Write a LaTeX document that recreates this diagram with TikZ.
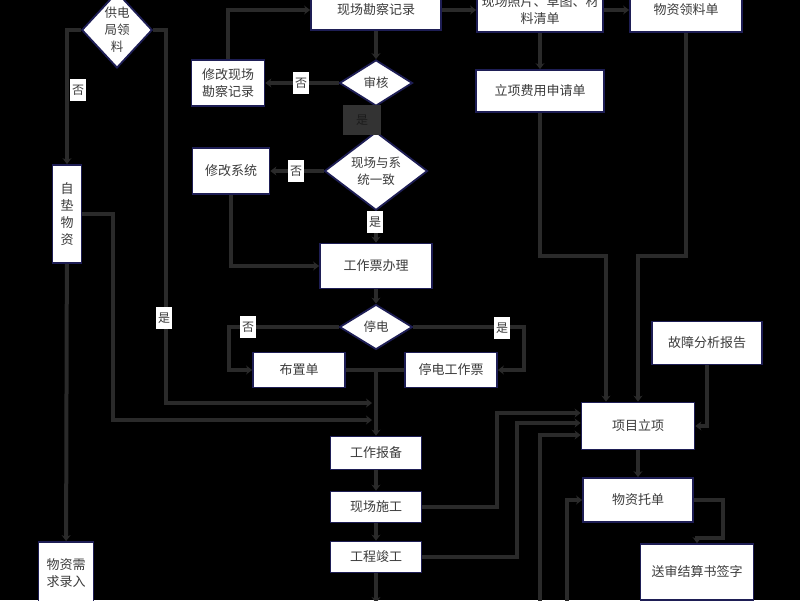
\documentclass[tikz,border=0pt]{standalone}
\usepackage{fontspec}
\newfontfamily\cjk{Noto Sans CJK SC}
\usetikzlibrary{shapes.geometric,arrows.meta}
\definecolor{bord}{HTML}{1E1E55}
\definecolor{conn}{HTML}{2A2A2A}
\definecolor{txt}{HTML}{3C3C3C}
\definecolor{dlab}{HTML}{333333}
\definecolor{dtxt}{HTML}{1C1C1C}
\tikzset{
  box/.style={draw=bord, fill=white, line width=1.8pt, text=txt,
    font=\cjk\fontsize{13}{17}\selectfont, inner sep=0pt, align=center},
  dia/.style={box, shape=diamond, font=\cjk\fontsize{12.5}{17}\selectfont},
  wire/.style={draw=conn, line width=4pt, -{Stealth[length=6pt,width=9pt]}},
  plainwire/.style={draw=conn, line width=4pt},
  lbl/.style={fill=white, text=txt, font=\cjk\fontsize{12}{14}\selectfont,
    inner sep=2pt, minimum height=22pt},
  dlbl/.style={lbl, fill=dlab, text=dtxt, minimum width=38pt, minimum height=30pt}
}
\begin{document}
\begin{tikzpicture}[x=1pt,y=-1pt]
\fill[black] (0,0) rectangle (800,600);
\useasboundingbox (0,0) rectangle (800,600);

% nodes
\node[dia, minimum width=70pt, minimum height=76pt] (gd) at (117,30) {供电\\局领\\料};
\node[box, minimum width=130pt, minimum height=40pt] (kc) at (376,10) {现场勘察记录};
\node[box, minimum width=126pt, minimum height=44pt] (zp) at (540,10) {现场照片、草图、材\\料清单};
\node[box, minimum width=112pt, minimum height=44pt] (wl) at (686,10) {物资领料单};
\node[box, minimum width=128pt, minimum height=42pt] (lx) at (540,91) {立项费用申请单};
\node[box, minimum width=73pt, minimum height=46pt] (xgk) at (228,83) {修改现场\\勘察记录};
\node[dia, minimum width=73pt, minimum height=46pt] (sh) at (376,83) {审核};
\node[dia, minimum width=103pt, minimum height=68pt] (yz) at (376,171) {现场与系\\统一致};
\node[box, minimum width=77pt, minimum height=46pt] (xgx) at (231,171) {修改系统};
\node[box, minimum width=112pt, minimum height=45pt] (gzp) at (376,266) {工作票办理};
\node[dia, minimum width=73pt, minimum height=45pt] (td) at (376,327) {停电};
\node[box, minimum width=92pt, minimum height=35pt] (bzd) at (299,370) {布置单};
\node[box, minimum width=92pt, minimum height=35pt] (tdp) at (451,370) {停电工作票};
\node[box, minimum width=29pt, minimum height=98pt] (zd) at (67,214) {自\\垫\\物\\资};
\node[box, minimum width=55pt, minimum height=62pt] (wx) at (66,573) {物资需\\求录入};
\node[box, minimum width=91pt, minimum height=33pt] (gb) at (376,453) {工作报备};
\node[box, minimum width=91pt, minimum height=31pt] (sg) at (376,507) {现场施工};
\node[box, minimum width=91pt, minimum height=31pt] (jg) at (376,557) {工程竣工};
\node[box, minimum width=110pt, minimum height=43pt] (gz) at (707,343) {故障分析报告};
\node[box, minimum width=113pt, minimum height=47pt] (xm) at (638,426) {项目立项};
\node[box, minimum width=110pt, minimum height=44pt] (wt) at (638,500) {物资托单};
\node[box, minimum width=113pt, minimum height=56pt] (ss) at (697,572) {送审结算书签字};

% free ends
\coordinate (m1) at (372,403);
\coordinate (m2) at (372,420);
\coordinate (b1) at (540,612);
\coordinate (b2) at (567,612);
\coordinate (e1) at (376,603);

% connectors
\draw[wire] (gd.west) -| (zd.north);
\draw[wire] (gd.east) -- ++(13,0) |- (m1);
\draw[wire] (zd.east) -- ++(31,0) |- (m2);
\draw[wire] (zd) -- (wx);
\draw[wire] (kc) -- (zp);
\draw[wire] (zp) -- (wl);
\draw[wire] (zp) -- (lx);
\draw[wire] (lx.south) -- ++(0,143) -| ([xshift=-32pt]xm.north);
\draw[wire] (wl.south) -- ++(0,223) -| (xm.north);
\draw[wire] (gz.south) |- (xm.east);
\draw[wire] (sg.east) -- ++(75,0) |- ([yshift=13pt]xm.west);
\draw[wire] (jg.east) -- ++(95,0) |- ([yshift=3pt]xm.west);
\draw[wire] (b1) |- ([yshift=-9pt]xm.west);
\draw[wire] (b2) |- (wt.west);
\draw[wire] (xm) -- (wt);
\draw[wire] (wt.east) -- ++(29,0) -- ++(0,38) -| (ss.north);
\draw[wire] (kc) -- (sh);
\draw[wire] (sh) -- (xgk);
\draw[wire] (xgk.north) |- (kc.west);
\draw[wire] (sh) -- (yz);
\draw[wire] (yz) -- (xgx);
\draw[wire] (xgx.south) |- (gzp.west);
\draw[wire] (yz) -- (gzp);
\draw[wire] (gzp) -- (td);
\draw[wire] (td.west) -- ++(-110,0) |- (bzd.west);
\draw[wire] (td.east) -- ++(111,0) |- (tdp.east);
\draw[wire] (bzd.east) -| (gb.north);
\draw[plainwire] (tdp.west) -- (tdp.west -| gb.north);
\draw[wire] (gb) -- (sg);
\draw[wire] (sg) -- (jg);
\draw[wire] (jg) -- (e1);

% labels
\node[lbl] (l1) at (78,90) {否};
\node[lbl] (l2) at (164,318) {是};
\node[lbl] (l3) at (301,83) {否};
\node[dlbl] (l4) at (362,120) {是};
\node[lbl] (l5) at (296,171) {否};
\node[lbl] (l6) at (375,222) {是};
\node[lbl] (l7) at (248,327) {否};
\node[lbl] (l8) at (502,328) {是};
\end{tikzpicture}
\end{document}
